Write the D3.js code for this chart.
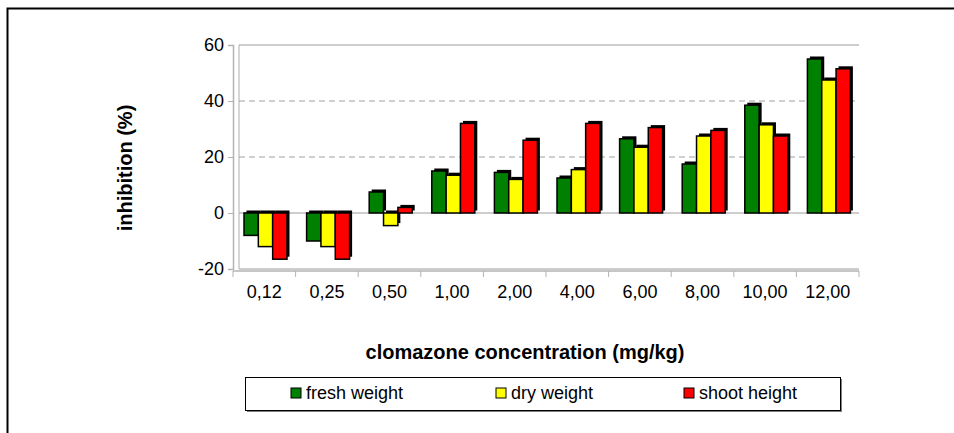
<!DOCTYPE html>
<html>
<head>
<meta charset="utf-8">
<script src="https://cdn.jsdelivr.net/npm/d3@7"></script>
<style>
  body { margin: 0; background: #fff; }
  text { font-family: "Liberation Sans", Arial, sans-serif; }
</style>
</head>
<body>
<svg id="chart" width="954" height="433"></svg>
<script>
// concentrations (mg/kg)
var categories = ["0,12", "0,25", "0,50", "1,00", "2,00", "4,00", "6,00", "8,00", "10,00", "12,00"];
var seriesNames = ["fresh weight", "dry weight", "shoot height"];
var seriesColors = ["#008000", "#ffff00", "#ff0000"];

var freshWeight = [-8, -10, 7.5, 15, 14.5, 12.5, 26.5, 17.5, 38.5, 55];
var dryWeight = [-12, -12, -4.5, 13.5, 12, 15.5, 23.5, 27.5, 31.5, 47.5];
var shootHeight = [-16.5, -16.5, 2, 32, 26, 32, 30.5, 29.5, 27.5, 51.5];

var yTicks = [-20, 0, 20, 40, 60];

var seriesValues = [freshWeight, dryWeight, shootHeight];

var svg = d3.select("#chart"),
    margin = {top: 45, left: 233, right: 954 - 859, bottom: 433 - 269},
    width = 954 - margin.left - margin.right,
    height = 433 - margin.top - margin.bottom;

// outer frame (only top/left edges visible)
svg.append("path")
    .attr("d", "M7.5,433 V8.5 H954")
    .attr("fill", "none")
    .attr("stroke", "#000")
    .attr("stroke-width", 2);

var g = svg.append("g").attr("transform", "translate(" + margin.left + "," + margin.top + ")");

var x0 = d3.scaleBand().domain(categories).range([0, width]).padding(0);
var x1 = d3.scaleBand().domain(seriesNames).range([11, 54]).padding(0);
var y = d3.scaleLinear().domain([-20, 60]).range([height, 0]);

var depth = 2.5;

// back wall left edge
g.append("line")
    .attr("x1", 6).attr("x2", 6)
    .attr("y1", 0).attr("y2", height)
    .attr("stroke", "#c8c8c8").attr("stroke-width", 1.5);

// grid lines
g.selectAll(".grid")
  .data(yTicks)
  .enter().append("line")
    .attr("x1", 6).attr("x2", width)
    .attr("y1", function(d) { return y(d); })
    .attr("y2", function(d) { return y(d); })
    .attr("stroke", function(d) { return (d === 20 || d === 40) ? "#a0a0a0" : "#bdbdbd"; })
    .attr("stroke-width", function(d) { return (d === 20 || d === 40) ? 1 : 1.5; })
    .attr("stroke-dasharray", function(d) { return (d === 20 || d === 40) ? "6,4" : null; });

// y axis (plain hyphen for negatives, like the original)
var yAxis = g.append("g")
    .call(d3.axisLeft(y).tickValues(yTicks).tickSize(5).tickPadding(4)
      .tickFormat(function(d) { return String(d); }));
yAxis.select(".domain").attr("stroke", "#b3b3b3").attr("stroke-width", 1.5);
yAxis.selectAll(".tick line").attr("stroke", "#b3b3b3");
yAxis.selectAll(".tick text")
    .attr("font-size", 18)
    .attr("fill", "#000")
    .attr("font-family", "Liberation Sans, Arial, sans-serif");

// x axis
var xAxisG = g.append("g")
    .attr("transform", "translate(0," + (height + 2) + ")");
xAxisG.append("line")
    .attr("x1", 0).attr("x2", width)
    .attr("stroke", "#b3b3b3").attr("stroke-width", 1.5);
xAxisG.selectAll(".xtick")
  .data(categories.concat(["end"]))
  .enter().append("line")
    .attr("x1", function(d, i) { return i * x0.step(); })
    .attr("x2", function(d, i) { return i * x0.step(); })
    .attr("y1", 0).attr("y2", 6)
    .attr("stroke", "#b3b3b3");
xAxisG.selectAll(".xlabel")
  .data(categories)
  .enter().append("text")
    .attr("x", function(d) { return x0(d) + x0.bandwidth() / 2; })
    .attr("y", 27)
    .attr("text-anchor", "middle")
    .attr("font-size", 18)
    .text(function(d) { return d; });

// bars
var groups = g.selectAll(".group")
  .data(categories)
  .enter().append("g")
    .attr("transform", function(d) { return "translate(" + x0(d) + ",0)"; });

var bars = groups.selectAll(".bar")
  .data(function(d, i) {
    return seriesNames.map(function(s, j) {
      return {name: s, value: seriesValues[j][i], color: seriesColors[j]};
    });
  })
  .enter().append("g");

// shaded 3D side/top
bars.append("rect")
    .attr("x", function(d) { return x1(d.name) + depth; })
    .attr("y", function(d) { return Math.min(y(d.value), y(0)) - depth; })
    .attr("width", x1.bandwidth())
    .attr("height", function(d) { return Math.abs(y(d.value) - y(0)); })
    .attr("fill", "#000");

bars.append("rect")
    .attr("x", function(d) { return x1(d.name); })
    .attr("y", function(d) { return Math.min(y(d.value), y(0)); })
    .attr("width", x1.bandwidth())
    .attr("height", function(d) { return Math.abs(y(d.value) - y(0)); })
    .attr("fill", function(d) { return d.color; })
    .attr("stroke", "#000")
    .attr("stroke-width", 1.5);

// axis titles
svg.append("text")
    .attr("transform", "translate(132,168) rotate(-90)")
    .attr("text-anchor", "middle")
    .attr("font-size", 20)
    .attr("font-weight", "bold")
    .text("inhibition (%)");

svg.append("text")
    .attr("x", 525)
    .attr("y", 359)
    .attr("text-anchor", "middle")
    .attr("font-size", 20)
    .attr("font-weight", "bold")
    .text("clomazone concentration (mg/kg)");

// legend
var legend = svg.append("g");
legend.append("rect")
    .attr("x", 247).attr("y", 379)
    .attr("width", 595).attr("height", 33)
    .attr("fill", "#808080");
legend.append("rect")
    .attr("x", 245.5).attr("y", 377.5)
    .attr("width", 595).attr("height", 33)
    .attr("fill", "#fff")
    .attr("stroke", "#000");

var legendX = [291, 496, 684];
var items = legend.selectAll(".item")
  .data(seriesNames)
  .enter().append("g")
    .attr("transform", function(d, i) { return "translate(" + legendX[i] + ",388)"; });
items.append("rect")
    .attr("width", 10).attr("height", 10)
    .attr("fill", function(d, i) { return seriesColors[i]; })
    .attr("stroke", "#000");
items.append("text")
    .attr("x", 15)
    .attr("y", 11)
    .attr("font-size", 18)
    .text(function(d) { return d; });
</script>
</body>
</html>
